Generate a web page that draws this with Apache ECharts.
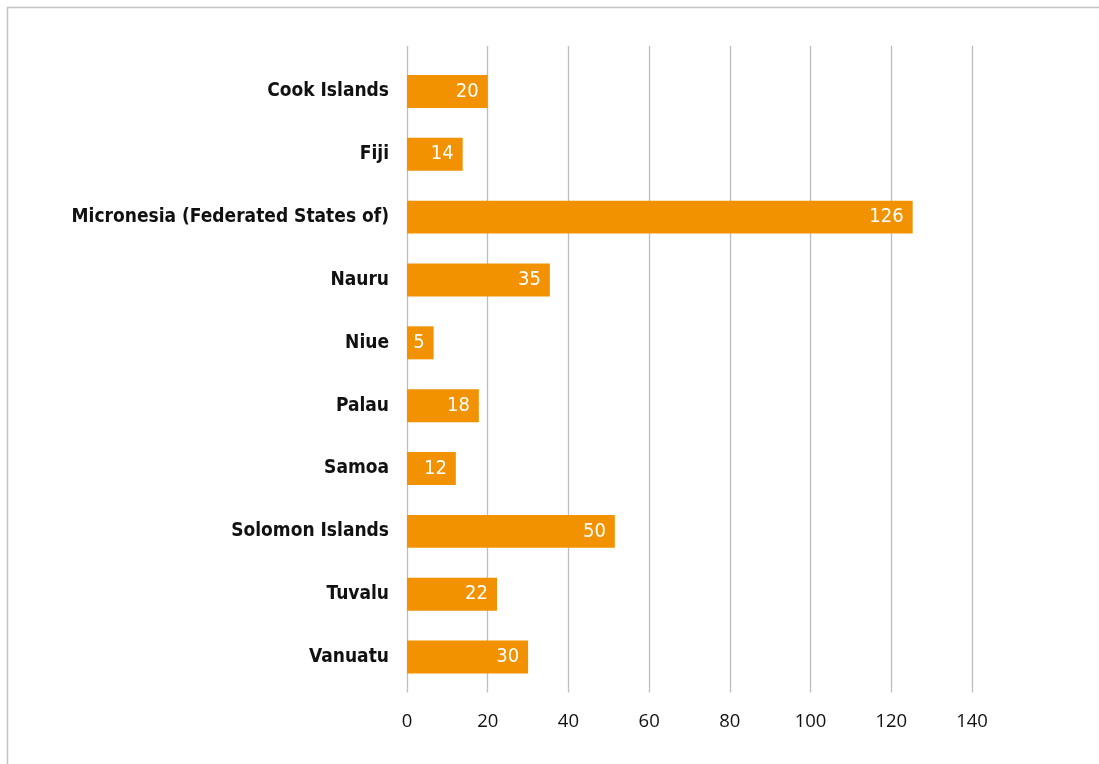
<!DOCTYPE html>
<html>
<head>
<meta charset="utf-8">
<script src="https://cdn.jsdelivr.net/npm/echarts@6/dist/echarts.min.js"></script>
<style>
html,body{margin:0;padding:0;background:#fff;}
#c{width:1099px;height:764px;}
</style>
</head>
<body>
<div id="c"></div>
<script>
// Data
var categories = ['Cook Islands','Fiji','Micronesia (Federated States of)','Nauru','Niue','Palau','Samoa','Solomon Islands','Tuvalu','Vanuatu'];
// bar lengths as drawn in the picture
var values = [20, 13.8, 125.3, 35.4, 6.6, 17.8, 12.1, 51.5, 22.3, 30];
// value labels as printed on the bars
var valueLabels = ['20','14','126','35','5','18','12','50','22','30'];
var xTicks = [0, 20, 40, 60, 80, 100, 120, 140];

var chart = echarts.init(document.getElementById('c'), null, {renderer:'canvas'});
var cond = '"DejaVu Sans Condensed","Liberation Sans Narrow",sans-serif';
chart.setOption({
  animation: false,
  backgroundColor: '#fff',
  graphic: [{
    type: 'rect', silent: true, z: 100,
    shape: {x: 7.5, y: 7.5, width: 1200, height: 900},
    style: {fill: 'none', stroke: '#c4c4c4', lineWidth: 1.5}
  }],
  grid: {left: 407, right: 127, top: 60, bottom: 75.5, containLabel: false},
  xAxis: [{
    type: 'value', min: xTicks[0], max: xTicks[xTicks.length-1], interval: 20,
    axisLine: {show: false},
    axisTick: {show: true, length: 4, lineStyle: {color: '#bdbdbd', width: 1.3}},
    splitLine: {show: true, lineStyle: {color: '#bdbdbd', width: 1.3}},
    axisLabel: {color: '#111', fontFamily: '"Open Sans",sans-serif', fontSize: 18.5, margin: 24}
  }, {
    type: 'value', position: 'top', min: xTicks[0], max: xTicks[xTicks.length-1], interval: 20,
    axisLine: {show: false},
    axisTick: {show: true, length: 14, lineStyle: {color: '#bdbdbd', width: 1.3}},
    splitLine: {show: false},
    axisLabel: {show: false}
  }],
  yAxis: {
    type: 'category', data: categories, inverse: true,
    axisLine: {show: false},
    axisTick: {show: false},
    axisLabel: {color: '#111', fontWeight: 'bold', fontFamily: cond, fontSize: 19, margin: 18}
  },
  series: [{
    type: 'bar', xAxisIndex: 0,
    data: values,
    barCategoryGap: '47.5%',
    itemStyle: {color: '#F39200'},
    label: {
      show: true, position: 'insideRight', distance: 9,
      color: '#fff', fontFamily: cond, fontSize: 20,
      formatter: function(p){ return valueLabels[p.dataIndex]; }
    }
  }]
});
</script>
</body>
</html>
